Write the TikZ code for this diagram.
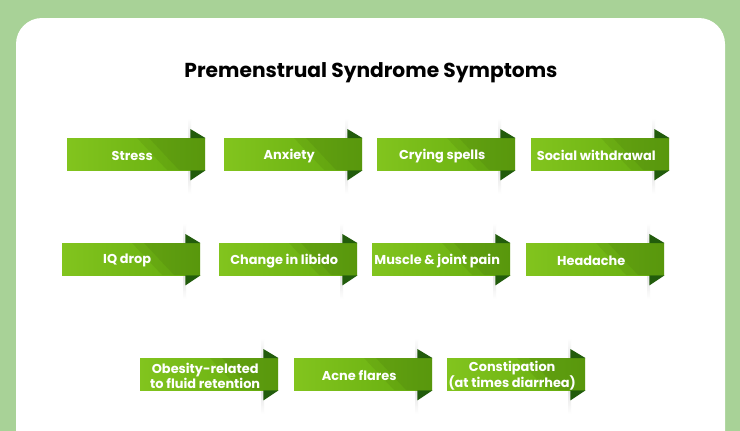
\documentclass[tikz,border=0pt]{standalone}
\usepackage{fontspec}
\setmainfont{Poppins}
\usepackage{tikz}
\usetikzlibrary{calc}

\definecolor{pageGreen}{RGB}{168,210,151}
\definecolor{bannerL}{RGB}{130,196,30}
\definecolor{bannerR}{RGB}{100,172,14}
\definecolor{foldDark}{RGB}{34,92,12}

\tikzset{
  banner/.style={anchor=north west, minimum width=138pt, minimum height=32pt,
    inner sep=0pt, left color=bannerL, right color=bannerR,
    path picture={
      \fill[black, opacity=.06] ($(path picture bounding box.north west)+(70,0)$)
        -- (path picture bounding box.north east) -- (path picture bounding box.south east)
        -- ($(path picture bounding box.south west)+(100,0)$) -- cycle;
      \fill[black, opacity=.06] ($(path picture bounding box.north west)+(82,0)$)
        -- (path picture bounding box.north east) -- (path picture bounding box.south east)
        -- ($(path picture bounding box.south west)+(112,0)$) -- cycle;
    }},
  label text/.style={text=white, align=center, inner sep=0pt,
    font=\fontsize{12.9}{15.3}\selectfont\bfseries},
  fold/.style={fill=foldDark},
  crease/.style={top color=white, bottom color=white, middle color=gray!35}
}

\begin{document}
\begin{tikzpicture}[x=1pt, y=-1pt]

% -------------------------------------------------------
% 1. Page background
% -------------------------------------------------------
\useasboundingbox (0,0) rectangle (740,431);
\fill[pageGreen] (0,0) rectangle (740,431);
\fill[white, rounded corners=26pt] (16,18) rectangle (725,470);

\node[font=\fontsize{20.2}{24}\selectfont\bfseries] (title) at (371,73)
  {Premenstrual Syndrome Symptoms};

% -------------------------------------------------------
% 2. Banners: name / left / top / text
% -------------------------------------------------------
\foreach \name/\x/\y/\txt in {
    stress/67/138/{Stress},
    anxiety/224/138/{Anxiety},
    crying/377/138/{Crying spells},
    social/531/138/{Social withdrawal},
    iq/62/243/{IQ drop},
    libido/219/243/{Change in libido},
    muscle/372/243/{Muscle \& joint pain},
    headache/526/243/{Headache},
    obesity/140/358/{Obesity-related\\to fluid retention},
    acne/294/358/{Acne flares},
    constip/447/358/{Constipation\\(at times diarrhea)}} {
  % shadow of the crease
  \shade[crease] (\x+121.5,\y-20) rectangle (\x+124,\y+56);
  \node[banner] (\name) at (\x,\y) {};
  \node[label text] (\name-txt) at ($(\name.center)+(-4,1.5)$) {\txt};
  % folded tips
  \fill[fold] ($(\name.north east)+(-15,-9)$) -- (\name.north east)
    -- ($(\name.north east)+(-15,0)$) -- cycle;
  \fill[fold] ($(\name.south east)+(-15,10)$) -- (\name.south east)
    -- ($(\name.south east)+(-15,0)$) -- cycle;
}

\end{tikzpicture}
\end{document}
